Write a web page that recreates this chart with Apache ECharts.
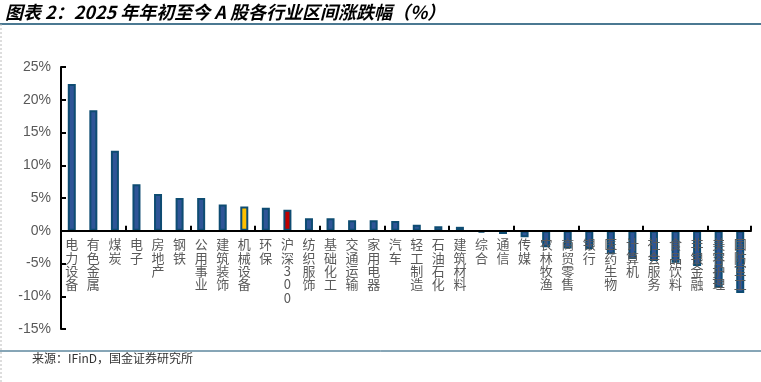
<!DOCTYPE html>
<html>
<head>
<meta charset="utf-8">
<script src="https://cdn.jsdelivr.net/npm/echarts@6/dist/echarts.min.js"></script>
<style>
  html, body { margin: 0; padding: 0; background: #fff; }
  #main { width: 761px; height: 382px; }
</style>
</head>
<body>
<div id="main"></div>
<script>
// industries, ytd change (%)
var industries = ['电力设备','有色金属','煤炭','电子','房地产','钢铁','公用事业','建筑装饰','机械设备','环保',
  '沪深300','纺织服饰','基础化工','交通运输','家用电器','汽车','轻工制造','石油石化','建筑材料','综合',
  '通信','传媒','农林牧渔','商贸零售','银行','医药生物','计算机','社会服务','食品饮料','非银金融','美容护理','国防军工'];
var changes = [22.4, 18.4, 12.2, 7.1, 5.6, 5.0, 5.0, 4.0, 3.7, 3.5,
  3.2, 1.9, 1.9, 1.6, 1.6, 1.5, 0.9, 0.7, 0.6, -0.3,
  -0.5, -1.0, -2.5, -2.7, -2.8, -3.6, -4.3, -4.6, -4.9, -5.4, -8.7, -9.5];
var yTicks = [-15, -10, -5, 0, 5, 10, 15, 20, 25];

var highlight = { '机械设备': '#ffc000', '沪深300': '#c00000' };

var myChart = echarts.init(document.getElementById('main'));

// category name hangs from the zero line: under a rising bar, inside a falling one
var barData = changes.map(function (v, i) {
  var name = industries[i];
  return {
    name: name,
    value: v,
    itemStyle: { color: highlight[name] || '#2f5597' },
    label: { position: v >= 0 ? 'bottom' : 'insideTop' }
  };
});

option = {
  animation: false,
  grid: { left: 61, right: 10, top: 67, bottom: 53, containLabel: false, outerBoundsMode: 'none' },
  graphic: [
    { type: 'text', left: 5, top: 3, style: {
        text: '图表 2：2025 年年初至今 A 股各行业区间涨跌幅（%）',
        font: 'italic bold 18px "Noto Sans CJK SC"', fill: '#000' } },
    { type: 'line', shape: { x1: 0, y1: 24, x2: 761, y2: 24 }, style: { stroke: '#0f4c6e', lineWidth: 1.5 } },
    { type: 'line', shape: { x1: 0, y1: 351, x2: 761, y2: 351 }, style: { stroke: '#0f4c6e', lineWidth: 1 } },
    { type: 'line', shape: { x1: 1, y1: 24, x2: 1, y2: 382 }, style: { stroke: '#bbb', lineWidth: 1, lineDash: [2, 2] } },
    { type: 'text', left: 32, top: 352, style: {
        text: '来源：IFinD，国金证券研究所',
        font: '12px "Noto Sans CJK SC"', fill: '#333' } }
  ],
  xAxis: {
    type: 'category',
    data: industries,
    z: 10,
    axisLine: { onZero: true, lineStyle: { color: '#000', width: 2 } },
    axisTick: { show: true, inside: true, length: 5, alignWithLabel: false, lineStyle: { color: '#000', width: 2 } },
    axisLabel: { show: false }
  },
  yAxis: {
    type: 'value',
    min: yTicks[0],
    max: yTicks[yTicks.length - 1],
    interval: 5,
    splitLine: { show: false },
    axisLine: { show: true, lineStyle: { color: '#000', width: 2 } },
    axisTick: { show: true, inside: true, length: 5, lineStyle: { color: '#000', width: 2 } },
    axisLabel: {
      color: '#595959',
      fontSize: 14,
      margin: 10,
      fontFamily: 'Liberation Sans',
      formatter: '{value}%'
    }
  },
  series: [{
    type: 'bar',
    data: barData,
    barWidth: 8,
    itemStyle: { borderColor: '#0e4c72', borderWidth: 2 },
    label: {
      show: true,
      distance: 7,
      color: '#595959',
      fontSize: 13,
      lineHeight: 13.3,
      fontFamily: 'Noto Sans CJK SC',
      formatter: function (p) { return p.name.split('').join('\n'); }
    }
  }]
};
myChart.setOption(option);
</script>
</body>
</html>
